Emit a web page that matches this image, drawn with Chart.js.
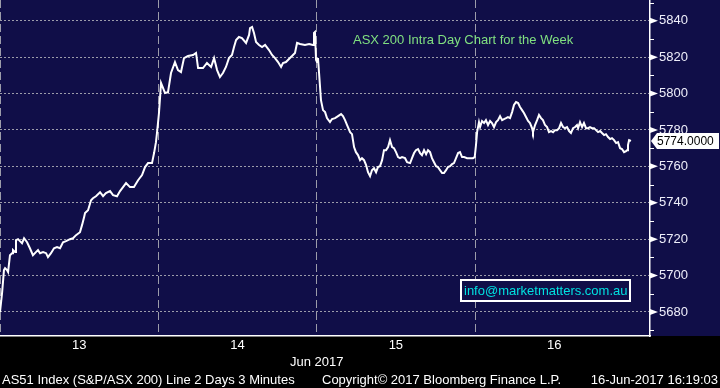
<!DOCTYPE html>
<html>
<head>
<meta charset="utf-8">
<script src="https://cdn.jsdelivr.net/npm/chart.js@4.4.1/dist/chart.umd.min.js"></script>
<style>
  html, body { margin: 0; padding: 0; background: #000; }
  #wrap { width: 720px; height: 388px; }
</style>
</head>
<body>
<div id="wrap"><canvas id="chart" width="720" height="388"></canvas></div>
<script>
// day labels on the time axis, one per trading session
const dayLabels = ["13", "14", "15", "16"];
const monthLabel = "Jun 2017";
const chartTitle = "ASX 200 Intra Day Chart for the Week";
const infoText = "info@marketmatters.com.au";
const footerLeft = "AS51 Index (S&P/ASX 200) Line 2 Days 3 Minutes";
const footerMid = "Copyright\u00a9 2017 Bloomberg Finance L.P.";
const footerRight = "16-Jun-2017 16:19:03";

const yTicks = [5680, 5700, 5720, 5740, 5760, 5780, 5800, 5820, 5840];
const yMin = 5666.8;
const yMax = 5851.4;
const xMax = 4.105; // sessions shown (last one partly empty)
const lastPrice = 5774.0;

// [fraction of session, index level]
const day13 = [
  [0.000, 5680.0], [0.013, 5690.3], [0.025, 5703.0], [0.032, 5704.1], [0.044, 5703.0],
  [0.051, 5701.9], [0.063, 5711.2], [0.076, 5712.3], [0.082, 5714.0], [0.095, 5712.9],
  [0.101, 5719.5], [0.114, 5720.0], [0.126, 5718.9], [0.139, 5717.8], [0.152, 5720.5],
  [0.171, 5718.3], [0.189, 5715.0], [0.208, 5711.2], [0.227, 5712.9], [0.240, 5714.0],
  [0.253, 5712.3], [0.272, 5712.9], [0.291, 5712.3], [0.303, 5710.1], [0.322, 5712.3],
  [0.341, 5715.0], [0.360, 5715.6], [0.379, 5715.0], [0.398, 5718.3], [0.417, 5718.9],
  [0.442, 5720.0], [0.461, 5720.5], [0.480, 5722.2], [0.505, 5723.8], [0.518, 5727.7],
  [0.531, 5732.1], [0.537, 5734.3], [0.556, 5735.9], [0.575, 5741.4], [0.587, 5742.5],
  [0.606, 5743.6], [0.632, 5745.8], [0.651, 5743.6], [0.669, 5745.3], [0.695, 5746.4],
  [0.714, 5744.2], [0.739, 5743.6], [0.758, 5746.4], [0.777, 5748.6], [0.796, 5750.8],
  [0.821, 5748.6], [0.846, 5748.6], [0.872, 5752.4], [0.897, 5755.2], [0.916, 5759.6],
  [0.935, 5761.8], [0.960, 5761.8], [0.973, 5767.3], [0.985, 5773.3], [0.992, 5778.8]
];
const day14 = [
  [0.004, 5789.3], [0.011, 5798.1], [0.017, 5805.8], [0.030, 5803.0], [0.042, 5800.3],
  [0.061, 5800.8], [0.080, 5811.3], [0.105, 5817.3], [0.124, 5812.9], [0.143, 5811.8],
  [0.162, 5819.5], [0.187, 5820.6], [0.219, 5821.2], [0.238, 5822.3], [0.251, 5814.0],
  [0.282, 5814.0], [0.307, 5816.8], [0.333, 5814.6], [0.352, 5819.5], [0.371, 5812.9],
  [0.389, 5809.1], [0.408, 5811.3], [0.427, 5814.6], [0.446, 5819.5], [0.465, 5821.2],
  [0.478, 5825.6], [0.491, 5829.4], [0.509, 5831.1], [0.528, 5830.5], [0.554, 5827.8],
  [0.573, 5832.2], [0.579, 5836.0], [0.592, 5836.6], [0.604, 5833.3], [0.617, 5828.3],
  [0.636, 5826.7], [0.655, 5825.6], [0.674, 5826.7], [0.699, 5823.9], [0.718, 5821.2],
  [0.737, 5819.5], [0.756, 5817.3], [0.775, 5814.6], [0.787, 5816.8], [0.806, 5817.3],
  [0.825, 5819.0], [0.844, 5820.6], [0.863, 5822.3], [0.876, 5827.8], [0.895, 5827.2],
  [0.926, 5826.7], [0.952, 5827.2], [0.977, 5826.7], [0.983, 5833.3], [0.989, 5833.8],
  [0.996, 5818.4]
];
const day15 = [
  [0.002, 5817.3], [0.008, 5819.5], [0.015, 5811.3], [0.027, 5796.4], [0.040, 5790.9],
  [0.053, 5789.8], [0.065, 5786.5], [0.084, 5784.3], [0.097, 5786.0], [0.116, 5786.5],
  [0.135, 5787.6], [0.154, 5788.7], [0.166, 5787.6], [0.179, 5785.4], [0.192, 5782.7],
  [0.211, 5778.8], [0.223, 5777.7], [0.236, 5770.6], [0.248, 5767.8], [0.261, 5766.2],
  [0.274, 5763.4], [0.286, 5764.5], [0.299, 5763.4], [0.312, 5760.7], [0.324, 5756.8],
  [0.337, 5754.6], [0.349, 5757.9], [0.362, 5759.0], [0.375, 5756.8], [0.387, 5759.6],
  [0.400, 5760.1], [0.413, 5763.4], [0.425, 5768.9], [0.438, 5768.9], [0.451, 5770.6],
  [0.463, 5774.4], [0.476, 5770.6], [0.488, 5770.0], [0.501, 5767.8], [0.514, 5765.1],
  [0.526, 5764.5], [0.539, 5765.1], [0.558, 5764.5], [0.571, 5762.3], [0.590, 5761.8],
  [0.602, 5764.5], [0.615, 5767.3], [0.627, 5768.9], [0.640, 5769.5], [0.653, 5767.3],
  [0.665, 5766.2], [0.678, 5768.9], [0.691, 5766.7], [0.703, 5768.9], [0.716, 5767.8],
  [0.728, 5764.5], [0.741, 5762.3], [0.754, 5760.1], [0.766, 5759.6], [0.779, 5757.9],
  [0.792, 5756.3], [0.804, 5756.3], [0.817, 5757.9], [0.829, 5759.6], [0.842, 5760.1],
  [0.855, 5761.2], [0.867, 5761.8], [0.880, 5764.5], [0.893, 5767.3], [0.905, 5767.8],
  [0.918, 5765.1], [0.931, 5765.1], [0.950, 5764.5], [0.968, 5764.5], [0.987, 5764.5],
  [0.998, 5765.1]
];
const day16 = [
  [0.006, 5771.7], [0.013, 5778.8], [0.025, 5784.3], [0.032, 5781.6], [0.044, 5784.9],
  [0.057, 5783.8], [0.069, 5785.4], [0.082, 5782.7], [0.095, 5784.9], [0.107, 5783.8],
  [0.120, 5781.6], [0.133, 5784.3], [0.145, 5785.4], [0.158, 5787.6], [0.171, 5785.4],
  [0.183, 5786.0], [0.196, 5786.5], [0.208, 5787.1], [0.221, 5786.5], [0.234, 5789.8],
  [0.246, 5793.7], [0.259, 5795.3], [0.272, 5794.8], [0.284, 5792.6], [0.297, 5790.9],
  [0.309, 5789.3], [0.322, 5787.1], [0.335, 5784.9], [0.347, 5783.8], [0.360, 5781.0],
  [0.366, 5778.8], [0.379, 5782.7], [0.392, 5785.4], [0.404, 5788.2], [0.417, 5786.5],
  [0.429, 5785.4], [0.442, 5782.7], [0.455, 5781.6], [0.467, 5778.8], [0.480, 5779.4],
  [0.493, 5778.8], [0.505, 5779.9], [0.518, 5779.9], [0.531, 5781.0], [0.543, 5783.8],
  [0.556, 5781.6], [0.568, 5781.0], [0.581, 5781.6], [0.594, 5779.4], [0.606, 5778.3],
  [0.619, 5781.0], [0.632, 5781.6], [0.644, 5782.7], [0.651, 5781.0], [0.663, 5784.3],
  [0.676, 5781.6], [0.688, 5783.8], [0.701, 5781.0], [0.714, 5781.0], [0.726, 5781.6],
  [0.739, 5781.0], [0.752, 5781.0], [0.764, 5779.9], [0.777, 5778.8], [0.790, 5779.4],
  [0.802, 5778.3], [0.815, 5777.2], [0.827, 5777.7], [0.840, 5776.1], [0.853, 5775.0],
  [0.865, 5775.5], [0.878, 5774.4], [0.891, 5772.8], [0.903, 5773.3], [0.916, 5770.0],
  [0.928, 5769.5], [0.941, 5767.8], [0.954, 5768.4], [0.960, 5768.9], [0.966, 5771.7],
  [0.973, 5774.4], [0.985, 5774.0]
];

const sessions = [day13, day14, day15, day16];
const points = [];
sessions.forEach((day, d) => day.forEach(([f, v]) => points.push({ x: d + f, y: v })));

const NAVY = "#100e48";
const GRID = "#9c9caa";
const FONT = "'Liberation Sans', Arial, sans-serif";

Chart.defaults.font.family = FONT;
Chart.defaults.font.size = 13;

const decor = {
  id: "decor",
  beforeDraw(chart) {
    const { ctx, chartArea, width, height } = chart;
    ctx.save();
    ctx.fillStyle = NAVY;
    ctx.fillRect(0, 0, width, chartArea.bottom);
    ctx.fillStyle = "#000";
    ctx.fillRect(0, chartArea.bottom, width, height - chartArea.bottom);
    ctx.restore();
  },
  afterDraw(chart) {
    const { ctx, chartArea: a, scales: { x, y } } = chart;
    ctx.save();
    // minor ticks on the price axis
    ctx.strokeStyle = "#fff";
    ctx.lineWidth = 1;
    const minors = yTicks.map((v) => v - 10).concat([yTicks[yTicks.length - 1] + 10]);
    minors.forEach((v) => {
      const py = Math.round(y.getPixelForValue(v)) + 0.5;
      ctx.beginPath();
      ctx.moveTo(a.right, py);
      ctx.lineTo(a.right + 4, py);
      ctx.stroke();
    });
    // arrow heads at labelled ticks
    ctx.fillStyle = "#fff";
    yTicks.forEach((v) => {
      const py = y.getPixelForValue(v);
      ctx.beginPath();
      ctx.moveTo(a.right, py - 3);
      ctx.lineTo(a.right + 8, py);
      ctx.lineTo(a.right, py + 3);
      ctx.closePath();
      ctx.fill();
    });

    // last price tag
    const py = y.getPixelForValue(lastPrice);
    ctx.fillStyle = "#fff";
    ctx.beginPath();
    ctx.moveTo(a.right + 1, py);
    ctx.lineTo(a.right + 7, py - 8);
    ctx.lineTo(719, py - 8);
    ctx.lineTo(719, py + 8);
    ctx.lineTo(a.right + 7, py + 8);
    ctx.closePath();
    ctx.fill();
    ctx.fillStyle = "#000";
    ctx.font = "12px " + FONT;
    ctx.textBaseline = "middle";
    ctx.textAlign = "left";
    ctx.fillText(lastPrice.toFixed(4), a.right + 7, py + 1);

    // title
    ctx.font = "13px " + FONT;
    ctx.fillStyle = "#80e080";
    ctx.fillText(chartTitle, 353, 40);

    // contact box
    ctx.strokeStyle = "#fff";
    ctx.lineWidth = 2;
    ctx.fillStyle = NAVY;
    ctx.fillRect(461, 280, 169, 21);
    ctx.strokeRect(461, 280, 169, 21);
    ctx.fillStyle = "#00e0e0";
    ctx.fillText(infoText, 464, 291);

    // month label and footer
    ctx.fillStyle = "#fff";
    ctx.textAlign = "center";
    ctx.fillText(monthLabel, x.getPixelForValue(2), 362);
    ctx.textAlign = "left";
    ctx.fillText(footerLeft, 2, 380);
    ctx.fillText(footerMid, 322, 380);
    ctx.textAlign = "right";
    ctx.fillText(footerRight, 718, 380);
    ctx.restore();
  }
};

new Chart(document.getElementById("chart"), {
  type: "line",
  data: {
    datasets: [{
      data: points,
      borderColor: "#ffffff",
      borderWidth: 2,
      pointRadius: 0,
      tension: 0,
      fill: false,
    }],
  },
  options: {
    responsive: false,
    animation: false,
    layout: { padding: 0 },
    plugins: { legend: { display: false }, tooltip: { enabled: false } },
    scales: {
      x: {
        type: "linear",
        min: 0,
        max: xMax,
        afterBuildTicks: (s) => {
          const t = [];
          dayLabels.forEach((_, i) => { t.push({ value: i }); t.push({ value: i + 0.5 }); });
          s.ticks = t;
        },
        afterFit: (s) => { s.height = 52; s.paddingLeft = 0; s.paddingRight = 0; },
        grid: {
          color: (c) => (c.tick && Number.isInteger(c.tick.value) ? GRID : "transparent"),
          lineWidth: 1,
          drawTicks: false,
        },
        border: { display: true, color: "#ffffff", width: 1.5, dash: [8, 4] },
        ticks: {
          autoSkip: false,
          maxRotation: 0,
          padding: 2,
          color: "#ffffff",
          callback: (v) => (Number.isInteger(v) ? "" : dayLabels[Math.floor(v)]),
        },
      },
      y: {
        position: "right",
        min: yMin,
        max: yMax,
        afterBuildTicks: (s) => { s.ticks = yTicks.map((v) => ({ value: v })); },
        afterFit: (s) => { s.width = 70; s.paddingTop = 0; s.paddingBottom = 0; },
        grid: {
          color: GRID,
          lineWidth: 1,
          drawTicks: true,
          tickLength: 7,
          tickColor: "transparent",
        },
        border: { display: true, color: "#ffffff", width: 1.5, dash: [2, 2] },
        ticks: { padding: 2, color: "#eeeefa", callback: (v) => String(v) },
      },
    },
  },
  plugins: [decor],
});
</script>
</body>
</html>
